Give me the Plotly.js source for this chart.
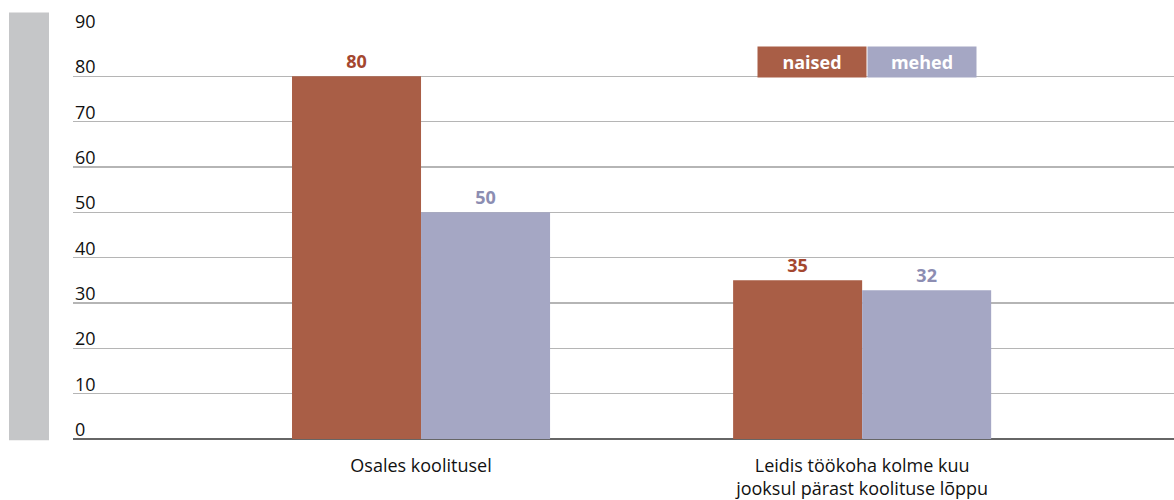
<!DOCTYPE html>
<html><head><meta charset="utf-8">
<script src="https://cdn.plot.ly/plotly-3.0.1.min.js"></script>
<style>body{margin:0;padding:0;background:#fff}#chart{width:1174px;height:500px}</style>
</head><body><div id="chart"></div>
<script>
const categories = ["Osales koolitusel", "Leidis töökoha kolme kuu<br>jooksul pärast koolituse lõppu"];
const naised = [80, 35];
const mehed = [50, 32.8];
const naisedLabels = ["80", "35"];
const mehedLabels = ["50", "32"];
const seriesNames = ["naised", "mehed"];
const yTicks = [0, 10, 20, 30, 40, 50, 60, 70, 80, 90];

const cNaised = "#a95e46", cMehed = "#a5a7c4";
const FONT = "Open Sans, sans-serif";

const traces = [
  {type:"bar", name:seriesNames[0], x:categories, y:naised, marker:{color:cNaised},
   text:naisedLabels, textposition:"outside", cliponaxis:false,
   textfont:{family:FONT, size:18, color:"#a4472f", weight:"bold"}},
  {type:"bar", name:seriesNames[1], x:categories, y:mehed, marker:{color:cMehed},
   text:mehedLabels, textposition:"outside", cliponaxis:false,
   textfont:{family:FONT, size:18, color:"#8c8db2", weight:"bold"}}
];

const annotations = yTicks.map(v => ({
  xref:"paper", yref:"y", x:0, y:v, xanchor:"left", yanchor:"bottom",
  text:String(v), showarrow:false, font:{family:FONT, size:18, color:"#111"}, yshift:-4
}));
annotations.push(
  {xref:"paper", yref:"paper", x:0.671, y:0.925, xanchor:"center", yanchor:"middle",
   text:"<b>"+seriesNames[0]+"</b>", showarrow:false, bgcolor:cNaised, width:108, height:30, borderpad:0,
   font:{family:FONT, size:18, color:"#fff"}},
  {xref:"paper", yref:"paper", x:0.7707, y:0.925, xanchor:"center", yanchor:"middle",
   text:"<b>"+seriesNames[1]+"</b>", showarrow:false, bgcolor:cMehed, width:108, height:30, borderpad:0,
   font:{family:FONT, size:18, color:"#fff"}}
);

const layout = {
  width:1174, height:500,
  margin:{l:73, r:0, t:31, b:61},
  paper_bgcolor:"#fff", plot_bgcolor:"#fff",
  showlegend:false,
  barmode:"group", bargap:0.415, bargroupgap:0,
  xaxis:{type:"category", range:[-0.789, 1.707], showgrid:false, zeroline:false, showline:false,
         ticks:"", ticklabelstandoff:14, tickfont:{family:FONT, size:18, color:"#111"}},
  yaxis:{range:[0, 90], tickvals:yTicks, showticklabels:false, gridcolor:"#b5b5b5", gridwidth:1.2,
         zeroline:true, zerolinecolor:"#666", zerolinewidth:1.5, showline:false},
  shapes:[{type:"rect", xref:"paper", yref:"paper", x0:-64/1101, x1:-24/1101, y0:-1.2/408, y1:(438.7-12)/408.2,
           fillcolor:"#c5c6c8", line:{width:0}, layer:"below"}],
  annotations:annotations
};
Plotly.newPlot("chart", traces, layout, {displayModeBar:false, staticPlot:true});
</script></body></html>
